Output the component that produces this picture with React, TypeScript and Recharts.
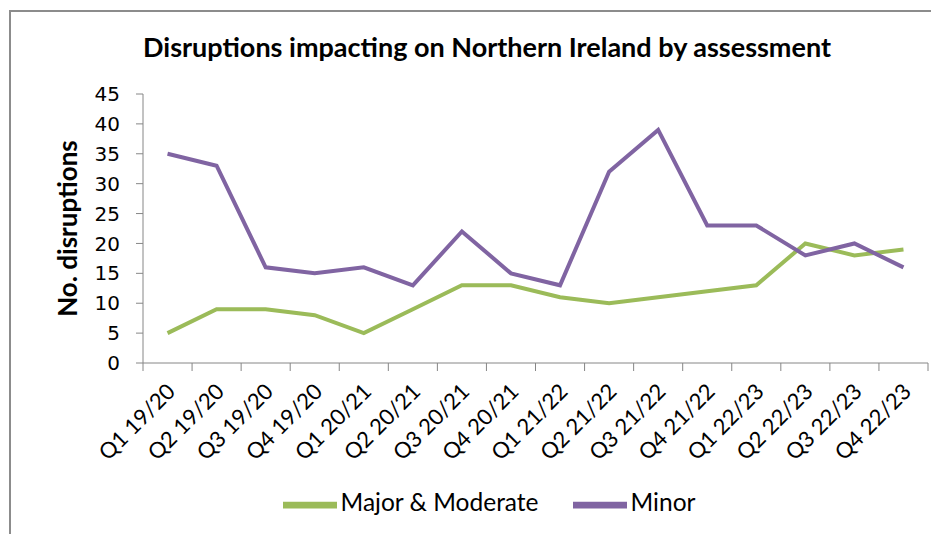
import { Legend, Line, LineChart, XAxis, YAxis } from "recharts";

const QUARTERS = [
  "Q1 19/20",
  "Q2 19/20",
  "Q3 19/20",
  "Q4 19/20",
  "Q1 20/21",
  "Q2 20/21",
  "Q3 20/21",
  "Q4 20/21",
  "Q1 21/22",
  "Q2 21/22",
  "Q3 21/22",
  "Q4 21/22",
  "Q1 22/23",
  "Q2 22/23",
  "Q3 22/23",
  "Q4 22/23",
];
const MAJOR_MODERATE = [5, 9, 9, 8, 5, 9, 13, 13, 11, 10, 11, 12, 13, 20, 18, 19];
const MINOR = [35, 33, 16, 15, 16, 13, 22, 15, 13, 32, 39, 23, 23, 18, 20, 16];
const Y_TICKS = [0, 5, 10, 15, 20, 25, 30, 35, 40, 45];

const GREEN = "#9bbb59";
const PURPLE = "#8064a2";
const AXIS = "#868686";
const FONT = "Lato, 'Liberation Sans', sans-serif";

const WIDTH = 931;
const HEIGHT = 526;
const MARGIN = { top: 86, right: 11, bottom: 71, left: 0 };
const Y_AXIS_W = 135;
const STEP = (WIDTH - MARGIN.left - MARGIN.right - Y_AXIS_W) / QUARTERS.length;

const data = QUARTERS.map((q, i) => ({
  quarter: q,
  major: MAJOR_MODERATE[i],
  minor: MINOR[i],
}));

function QuarterTick(props: any) {
  const { x, y, payload, index } = props;
  const last = index === QUARTERS.length - 1;
  return (
    <g>
      <line x1={x - STEP / 2} y1={y} x2={x - STEP / 2} y2={y + 8} stroke={AXIS} />
      {last && <line x1={x + STEP / 2} y1={y} x2={x + STEP / 2} y2={y + 8} stroke={AXIS} />}
      <text
        transform={`translate(${x + 9},${y + 30}) rotate(-45)`}
        textAnchor="end"
        fontSize={22}
        fontFamily={FONT}
        fill="#000"
      >
        {payload.value}
      </text>
    </g>
  );
}

export default function App() {
  return (
    <div style={{ position: "relative", width: WIDTH, height: HEIGHT, background: "#fff" }}>
      <div
        style={{
          position: "absolute",
          left: 1,
          top: 2,
          width: WIDTH + 20,
          height: HEIGHT + 20,
          border: "2px solid #8c8c8c",
          boxSizing: "border-box",
        }}
      />
      <div
        style={{
          position: "absolute",
          left: 0,
          width: 958,
          top: 22,
          textAlign: "center",
          fontFamily: FONT,
          fontWeight: 700,
          fontSize: 27,
          color: "#000",
          zIndex: 1,
        }}
      >
        Disruptions impacting on Northern Ireland by assessment
      </div>
      <LineChart width={WIDTH} height={HEIGHT} data={data} margin={MARGIN} style={{ position: "absolute", left: 0, top: 0 }}>
        <XAxis
          dataKey="quarter"
          interval={0}
          height={100}
          stroke={AXIS}
          tickLine={false}
          tickSize={0}
          tickMargin={0}
          padding={{ left: STEP / 2, right: STEP / 2 }}
          tick={<QuarterTick />}
        />
        <YAxis
          domain={[0, 45]}
          ticks={Y_TICKS}
          interval={0}
          width={Y_AXIS_W}
          stroke={AXIS}
          tickSize={7}
          tickMargin={16}
          tick={{ fill: "#000", fontSize: 20, fontFamily: "'DejaVu Sans', sans-serif" }}
          label={{
            value: "No.  disruptions",
            angle: -90,
            position: "insideLeft",
            offset: 60,
            style: { fill: "#000", fontSize: 26, fontWeight: 700, fontFamily: FONT, textAnchor: "middle" },
          }}
        />
        <Legend
          verticalAlign="middle"
          align="center"
          layout="horizontal"
          iconSize={54}
          wrapperStyle={{ top: 470, left: 15, width: 966, fontFamily: FONT, fontSize: 24.5, color: "#000" }}
          formatter={(value: string) => <span style={{ color: "#000", marginRight: 24 }}>{value}</span>}
        />
        <Line
          name="Major & Moderate"
          dataKey="major"
          stroke={GREEN}
          strokeWidth={4}
          dot={false}
          legendType="plainline"
          isAnimationActive={false}
        />
        <Line
          name="Minor"
          dataKey="minor"
          stroke={PURPLE}
          strokeWidth={4}
          dot={false}
          legendType="plainline"
          isAnimationActive={false}
        />
      </LineChart>
    </div>
  );
}
